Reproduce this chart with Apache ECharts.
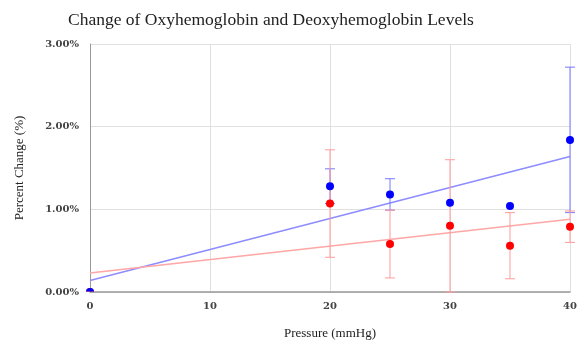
<!DOCTYPE html>
<html>
<head>
<meta charset="utf-8">
<script src="https://cdn.jsdelivr.net/npm/echarts@6/dist/echarts.min.js"></script>
<style>html,body{margin:0;padding:0;background:#fff;}#c{width:580px;height:345px;}</style>
</head>
<body>
<div id="c"></div>
<script>
const pressure = [0, 20, 25, 30, 35, 40];
const oxyValues = [0, 1.28, 1.18, 1.08, 1.04, 1.84];
const oxyErrors = [0, 0.21, 0.19, 0, 0, 0.88];
const deoxyValues = [0, 1.07, 0.58, 0.80, 0.56, 0.79];
const deoxyErrors = [0, 0.65, 0.41, 0.80, 0.40, 0.19];
const trendX = [0, 40];
const oxyTrend = [0.14, 1.64];
const deoxyTrend = [0.23, 0.88];
const xTicks = [0, 10, 20, 30, 40];
const yTicks = [0, 1, 2, 3];

const pts = (xs, ys) => xs.map((x, i) => [x, ys[i]]);
const errs = (xs, ys, es) => xs.map((x, i) => [x, ys[i] - es[i], ys[i] + es[i], es[i]]).filter(d => d[3] > 0);

function errRender(color) {
  return function (params, api) {
    const x = api.value(0), lo = api.value(1), hi = api.value(2);
    const a = api.coord([x, lo]), b = api.coord([x, hi]);
    const w = 5;
    const st = { stroke: color, lineWidth: 1 };
    return {
      type: 'group',
      children: [
        { type: 'line', shape: { x1: a[0], y1: a[1], x2: b[0], y2: b[1] }, style: st },
        { type: 'line', shape: { x1: a[0] - w, y1: a[1], x2: a[0] + w, y2: a[1] }, style: st },
        { type: 'line', shape: { x1: b[0] - w, y1: b[1], x2: b[0] + w, y2: b[1] }, style: st }
      ]
    };
  };
}

function dotRender(color) {
  return function (params, api) {
    const p = api.coord([api.value(0), api.value(1)]);
    const cs = params.coordSys;
    return {
      type: 'circle',
      shape: { cx: p[0], cy: p[1], r: 4 },
      style: { fill: color },
      clipPath: { type: 'rect', shape: { x: cs.x - 20, y: cs.y - 20, width: cs.width + 40, height: cs.height + 19.5 } }
    };
  };
}

const chart = echarts.init(document.getElementById('c'), null, { renderer: 'canvas' });
chart.setOption({
  animation: false,
  backgroundColor: '#fff',
  title: {
    text: 'Change of Oxyhemoglobin and Deoxyhemoglobin Levels',
    left: 63, top: 6,
    textStyle: { fontFamily: 'Liberation Serif', fontSize: 17.5, fontWeight: 'normal', color: '#222' }
  },
  grid: { left: 90, right: 10, top: 44, bottom: 52, containLabel: false },
  xAxis: {
    type: 'value', min: 0, max: 40, interval: 10,
    name: 'Pressure (mmHg)', nameLocation: 'middle', nameGap: 35,
    nameTextStyle: { fontFamily: 'Liberation Serif', fontSize: 13, color: '#222' },
    axisLine: { show: true, lineStyle: { color: '#999', width: 1.5 } },
    axisTick: { show: false },
    axisLabel: { margin: 9, fontFamily: 'DejaVu Serif', fontSize: 10, color: '#444', fontWeight: 'bold',
      formatter: v => xTicks.includes(v) ? String(v) : '' },
    splitLine: { show: true, lineStyle: { color: '#e0e0e0' } }
  },
  yAxis: {
    type: 'value', min: 0, max: 3, interval: 1,
    name: 'Percent Change (%)', nameLocation: 'middle', nameGap: 64,
    nameTextStyle: { fontFamily: 'Liberation Serif', fontSize: 13, color: '#222' },
    axisLine: { show: true, lineStyle: { color: '#999', width: 1 } },
    axisTick: { show: false },
    axisLabel: { margin: 11, fontFamily: 'DejaVu Serif', fontSize: 10, color: '#444', fontWeight: 'bold',
      formatter: v => yTicks.includes(v) ? v.toFixed(2) + '%' : '' },
    splitLine: { show: true, lineStyle: { color: '#e0e0e0' } }
  },
  series: [
    { type: 'line', data: pts(trendX, oxyTrend), symbol: 'none', silent: true,
      lineStyle: { color: '#8c8cff', width: 1.5 }, z: 2 },
    { type: 'line', data: pts(trendX, deoxyTrend), symbol: 'none', silent: true,
      lineStyle: { color: '#ffa6a6', width: 1.5 }, z: 2 },
    { type: 'custom', data: errs(pressure, oxyValues, oxyErrors), renderItem: errRender('#7777ff'),
      encode: { x: 0, y: [1, 2] }, clip: false, z: 3 },
    { type: 'custom', data: errs(pressure, deoxyValues, deoxyErrors), renderItem: errRender('#ff9a9a'),
      encode: { x: 0, y: [1, 2] }, clip: false, z: 3 },
    { type: 'custom', data: pts(pressure, deoxyValues), renderItem: dotRender('#ff0000'),
      encode: { x: 0, y: 1 }, clip: false, z: 4 },
    { type: 'custom', data: pts(pressure, oxyValues), renderItem: dotRender('#0000ff'),
      encode: { x: 0, y: 1 }, clip: false, z: 5 }
  ]
});
</script>
</body>
</html>
